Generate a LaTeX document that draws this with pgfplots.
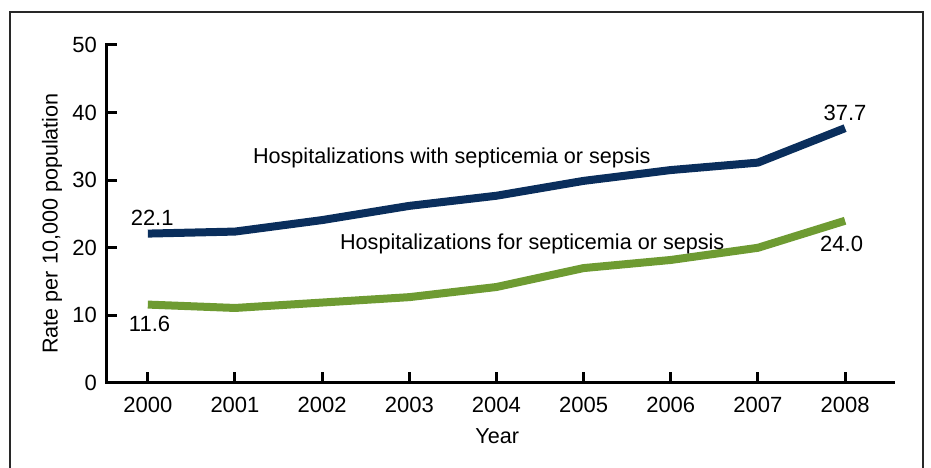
\documentclass[border=0pt]{standalone}
\usepackage{pgfplots}
\pgfplotsset{compat=1.18}
\usepackage{fontspec}
\setmainfont{Liberation Sans}
\definecolor{navyline}{RGB}{10,46,92}
\definecolor{greenline}{RGB}{110,155,50}
\definecolor{framegray}{RGB}{40,40,40}
\newcommand{\fs}{\fontsize{21.6}{26}\selectfont}
\newcommand{\tfs}{\fontsize{22}{26}\selectfont}
\begin{document}
\begin{tikzpicture}
\useasboundingbox (0pt,0pt) rectangle (931pt,468pt);
\draw[framegray, line width=1.5pt] (10pt,-5pt) -- (10pt,456pt) -- (923pt,456pt) -- (923pt,-5pt);
\begin{axis}[
  at={(106pt,85pt)}, anchor=south west,
  scale only axis, width=787pt, height=338pt,
  xmin=1999.52, xmax=2008.55, ymin=0, ymax=50,
  axis x line=bottom, axis y line=left,
  axis line style={-, line width=3pt, line cap=rect},
  tick style={line width=3pt, black},
  tick align=inside, major tick length=11pt,
  xtick={2000,2001,...,2008}, ytick={0,10,...,50},
  xticklabel style={/pgf/number format/1000 sep={}, anchor=north, inner sep=0pt, yshift=-14pt},
  yticklabel style={anchor=east, inner sep=0pt, xshift=-9pt},
  /pgf/number format/assume math mode=true,
  tick label style={font=\tfs},
  label style={font=\fs},
  xlabel={Year},
  xlabel style={at={(axis description cs:0.497,0)}, anchor=base, yshift=-60.5pt},
  ylabel={Rate per 10,000 population},
  ylabel style={at={([xshift=-54pt]axis description cs:0,0.472)}, anchor=center},
  clip=false,
]
\addplot[navyline, line width=8pt, line join=round] coordinates {
(2000,22.1) (2001,22.4) (2002,24.1) (2003,26.2) (2004,27.7) (2005,29.9) (2006,31.5) (2007,32.6) (2008,37.7)};
\addplot[greenline, line width=8pt, line join=round] coordinates {
(2000,11.6) (2001,11.1) (2002,11.9) (2003,12.7) (2004,14.2) (2005,17.0) (2006,18.2) (2007,20.0) (2008,24.0)};
\node[font=\tfs, anchor=base, inner sep=0pt] at (axis cs:2000.05,23.37) {22.1};
\node[font=\tfs, anchor=base, inner sep=0pt] at (axis cs:2000.02,7.69) {11.6};
\node[font=\tfs, anchor=base, inner sep=0pt] at (axis cs:2008.0,38.83) {37.7};
\node[font=\tfs, anchor=base, inner sep=0pt] at (axis cs:2007.96,19.38) {24.0};
\node[font=\fs, anchor=base west, inner sep=0pt] at (axis cs:2001.205,32.4) {Hospitalizations with septicemia or sepsis};
\node[font=\fs, anchor=base west, inner sep=0pt] at (axis cs:2002.204,19.8) {Hospitalizations for septicemia or sepsis};
\end{axis}
\end{tikzpicture}
\end{document}
